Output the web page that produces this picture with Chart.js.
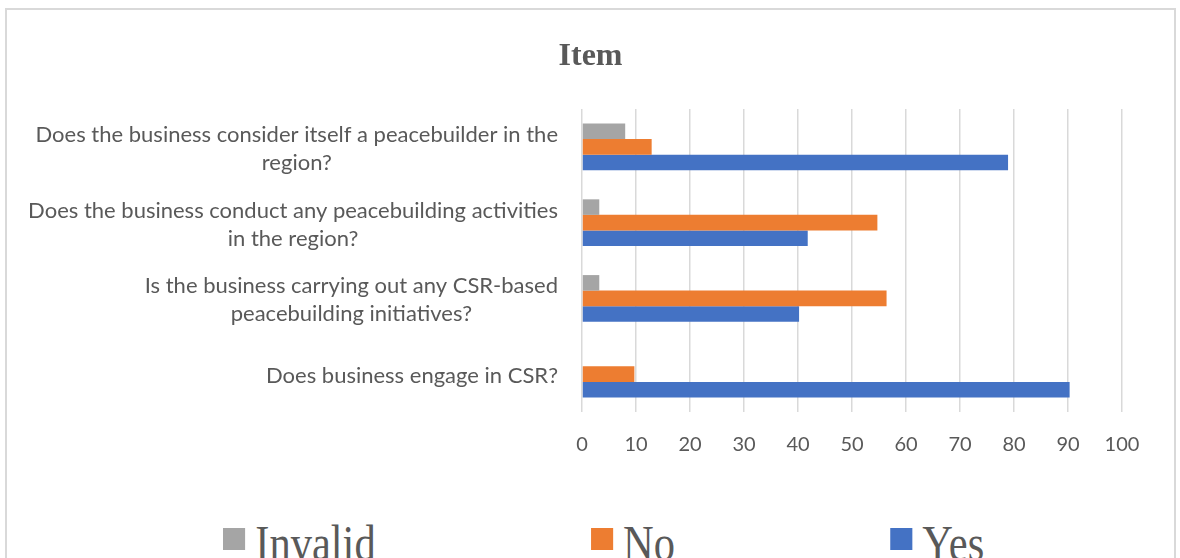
<!DOCTYPE html>
<html>
<head>
<meta charset="utf-8">
<title>Item</title>
<script src="https://cdn.jsdelivr.net/npm/chart.js@4/dist/chart.umd.min.js"></script>
<style>
    html, body {
        margin: 0;
        padding: 0;
        background: #ffffff;
        overflow: hidden;
        width: 1180px;
        height: 558px;
    }
    #frame {
        position: absolute;
        left: 5px;
        top: 8px;
        width: 1167px;
        height: 600px;
        border: 2px solid #d9d9d9;
    }
    /* légende : texte serif étroit, tout le bloc est compressé en largeur */
    #legend {
        position: absolute;
        left: 223px;
        top: 518px;
        display: flex;
        align-items: flex-start;
        gap: 253px;
        transform: scaleX(0.85);
        transform-origin: left top;
        font-family: "Liberation Serif", "Times New Roman", serif;
        font-size: 50px;
        line-height: 50px;
        color: #595959;
        white-space: nowrap;
    }
    .legend-item {
        display: flex;
        align-items: flex-start;
    }
    .legend-box {
        width: 26px;
        height: 22px;
        margin-top: 10px;
        margin-right: 12px;
    }
</style>
</head>
<body>
<div id="frame">
    <canvas id="chart" width="1167" height="470"></canvas>
</div>
<div id="legend"></div>

<script>
/***************************************************************
 * DONNÉES
 ***************************************************************/
const categories = [
    ["Does the business consider itself a peacebuilder in the", "region?"],
    ["Does the business conduct any peacebuilding activities", "in the region?"],
    ["Is the business carrying out any CSR-based", "peacebuilding initiatives?"],
    ["Does business engage in CSR?"]
];

const invalidValues = [8.0, 3.2, 3.2, 0];
const noValues      = [12.9, 54.7, 56.4, 9.7];
const yesValues     = [78.9, 41.8, 40.2, 90.3];

const xTicks = [0, 10, 20, 30, 40, 50, 60, 70, 80, 90, 100];

const seriesNames  = ["Invalid", "No", "Yes"];
const seriesColors = ["#A5A5A5", "#ED7D31", "#4472C4"];

const textColor = "#595959";
const labelFont = "Lato, 'Open Sans', sans-serif";

/***************************************************************
 * LIBELLÉS DES CATÉGORIES (bloc aligné à droite, lignes centrées)
 ***************************************************************/
const categoryLabels = {
    id: "categoryLabels",
    afterDraw(chart) {
        const ctx = chart.ctx;
        const yScale = chart.scales.y;
        const lineHeight = 28;

        ctx.save();
        ctx.font = "22px " + labelFont;
        ctx.fillStyle = textColor;
        ctx.textAlign = "center";
        ctx.textBaseline = "middle";

        categories.forEach((lines, i) => {
            const yCenter = yScale.getPixelForValue(i) + 2;
            const blockWidth = Math.max(...lines.map(l => ctx.measureText(l).width));
            const xCenter = yScale.right - 24 - blockWidth / 2;

            lines.forEach((line, k) => {
                const y = yCenter + (k - (lines.length - 1) / 2) * lineHeight;
                ctx.fillText(line, xCenter, y);
            });
        });

        ctx.restore();
    }
};

/***************************************************************
 * GRAPHIQUE
 ***************************************************************/
const datasets = [invalidValues, noValues, yesValues].map((values, i) => ({
    label: seriesNames[i],
    data: values,
    backgroundColor: seriesColors[i],
    borderWidth: 0,
    categoryPercentage: 0.615,
    barPercentage: 1.0
}));

const hiddenAxis = {
    ticks: { display: false },
    grid: { display: false },
    border: { display: false }
};

const chart = new Chart(document.getElementById("chart"), {
    type: "bar",
    data: {
        labels: categories.map(l => l.join(" ")),
        datasets: datasets
    },
    options: {
        indexAxis: "y",
        responsive: false,
        animation: false,
        devicePixelRatio: 1,
        layout: {
            padding: { left: 0, right: 0, top: 0, bottom: 8 }
        },
        plugins: {
            legend: { display: false },
            tooltip: { enabled: false },
            title: {
                display: true,
                text: "Item",
                color: textColor,
                font: { family: "'Liberation Serif', serif", size: 32, weight: "bold" },
                padding: { top: 27.8, bottom: 32.8 }
            }
        },
        scales: {
            x: {
                min: 0,
                max: 100,
                afterBuildTicks: scale => {
                    scale.ticks = xTicks.map(v => ({ value: v }));
                },
                afterFit: scale => { scale.height = 60; },
                ticks: {
                    color: textColor,
                    font: { family: labelFont, size: 20 },
                    padding: 21
                },
                grid: {
                    color: "#d9d9d9",
                    lineWidth: 1.5,
                    drawTicks: false
                },
                border: { display: false }
            },
            y: {
                ...hiddenAxis,
                afterFit: scale => { scale.width = 575; }
            },
            // marge droite du tracé, le titre reste centré sur tout le canevas
            yRight: {
                ...hiddenAxis,
                position: "right",
                afterFit: scale => { scale.width = 52; }
            }
        }
    },
    plugins: [categoryLabels]
});

/***************************************************************
 * LÉGENDE
 ***************************************************************/
const legendEl = document.getElementById("legend");
chart.data.datasets.forEach(ds => {
    const item = document.createElement("div");
    item.className = "legend-item";
    item.innerHTML = `
        <span class="legend-box" style="background:${ds.backgroundColor}"></span>
        <span class="legend-text">${ds.label}</span>
    `;
    legendEl.appendChild(item);
});
</script>
</body>
</html>
